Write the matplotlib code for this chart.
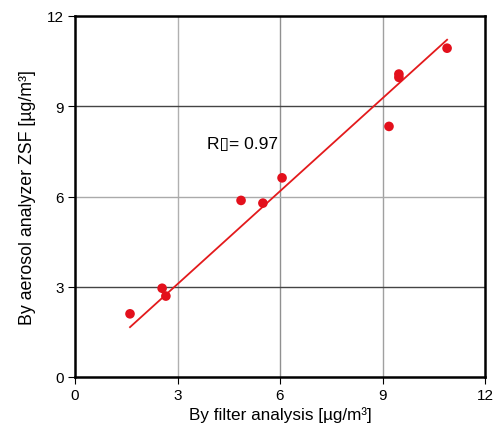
import numpy as np
import matplotlib.pyplot as plt

plt.rcParams['font.family'] = ['Liberation Sans', 'DejaVu Sans']

# filter analysis vs aerosol analyzer ZSF, ug/m3
filter_vals = [1.61, 2.55, 2.66, 4.86, 5.50, 6.06, 9.19, 9.48, 9.48, 10.89]
zsf_vals = [2.10, 2.95, 2.69, 5.87, 5.78, 6.62, 8.33, 10.07, 9.96, 10.93]
ticks = [0, 3, 6, 9, 12]

x = np.array(filter_vals)
y = np.array(zsf_vals)
# least squares line forced through the origin
slope = np.sum(x * y) / np.sum(x * x)

fig = plt.figure(figsize=(4.94, 4.35), dpi=100)
ax = fig.add_axes([75 / 494, 57 / 435, 410 / 494, 361 / 435])

# grid: dark at 3 and 9 horizontally, light elsewhere
ax.axvline(3, color='#b0b0b0', lw=1.0, zorder=1)
ax.axvline(6, color='#909090', lw=1.0, zorder=1)
ax.axvline(9, color='#a0a0a0', lw=1.0, zorder=1)
ax.axhline(3, color='#444444', lw=1.0, zorder=1)
ax.axhline(6, color='#aaaaaa', lw=1.0, zorder=1)
ax.axhline(9, color='#444444', lw=1.0, zorder=1)

xl = np.array([x.min(), x.max()])
ax.plot(xl, slope * xl, color='#e31a1c', lw=1.3, zorder=2)
ax.scatter(x, y, s=48, color='#e3101c', edgecolors='none', zorder=3)

ax.text(3.86, 7.75, 'R\u25af= 0.97', fontsize=12.5, va='center', ha='left')

ax.set_xlim(0, 12)
ax.set_ylim(0, 12)
ax.set_xticks(ticks)
ax.set_yticks(ticks)
ax.tick_params(direction='out', length=5, width=0.8, labelsize=11, pad=3)
ax.tick_params(axis='x', top=False)
ax.tick_params(axis='y', right=False)
for s in ax.spines.values():
    s.set_linewidth(1.8)
ax.set_xlabel('By filter analysis [µg/m³]', fontsize=12.3, labelpad=3)
ax.set_ylabel('By aerosol analyzer ZSF [µg/m³]', fontsize=12.8, labelpad=8)

fig.savefig('out.png', dpi=100)
